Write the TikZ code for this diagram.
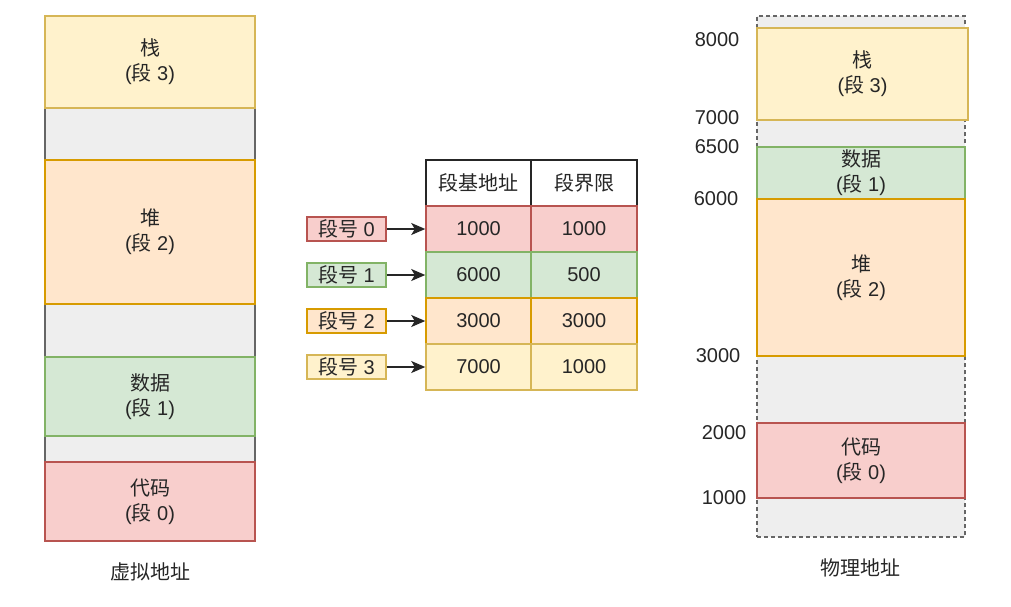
\documentclass[tikz,border=0pt]{standalone}
\usepackage{fontspec}
\setmainfont{Liberation Sans}
\newfontfamily\cjk{Noto Sans CJK SC}
\usetikzlibrary{arrows.meta}
\definecolor{yfill}{HTML}{FFF2CC}\definecolor{ydraw}{HTML}{D6B656}
\definecolor{ofill}{HTML}{FFE6CC}\definecolor{odraw}{HTML}{D79B00}
\definecolor{gfill}{HTML}{D5E8D4}\definecolor{gdraw}{HTML}{82B366}
\definecolor{rfill}{HTML}{F8CECC}\definecolor{rdraw}{HTML}{B85450}
\definecolor{efill}{HTML}{EEEEEE}\definecolor{edraw}{HTML}{666666}
\tikzset{
  base/.style={rectangle, inner sep=0pt, line width=1.5pt, align=center,
    font=\fontsize{20}{25}\selectfont, text=black!85},
  yseg/.style={base, fill=yfill, draw=ydraw},
  oseg/.style={base, fill=ofill, draw=odraw},
  gseg/.style={base, fill=gfill, draw=gdraw},
  rseg/.style={base, fill=rfill, draw=rdraw},
  eseg/.style={base, fill=efill, draw=edraw},
  dseg/.style={base, fill=efill, draw=edraw, dash pattern=on 4pt off 3pt},
  hcell/.style={base, fill=white, draw=black!85},
  lbl/.style={font=\fontsize{20}{25}\selectfont, text=black!85, inner sep=0pt},
  arr/.style={-{Stealth[length=14pt,width=12pt,inset=3.5pt]}, line width=1.5pt, draw=black!85},
}
\begin{document}
\begin{tikzpicture}[x=1pt,y=-1pt]
\useasboundingbox (0,0) rectangle (1011,606);
% virtual address space
\node[eseg, minimum width=210pt, minimum height=525pt] (vbg) at (150,278.5) {};
\node[yseg, minimum width=210pt, minimum height=92pt] (vstack) at (150,62) {{\cjk 栈}\\({\cjk 段} 3)};
\node[oseg, minimum width=210pt, minimum height=144pt] (vheap) at (150,232) {{\cjk 堆}\\({\cjk 段} 2)};
\node[gseg, minimum width=210pt, minimum height=79pt] (vdata) at (150,396.5) {{\cjk 数据}\\({\cjk 段} 1)};
\node[rseg, minimum width=210pt, minimum height=79pt] (vcode) at (150,501.5) {{\cjk 代码}\\({\cjk 段} 0)};
\node[lbl] (vlabel) at (150,572) {\cjk 虚拟地址};
% segment table
\node[hcell, minimum width=105pt, minimum height=46pt] (h1) at (478.5,183) {\cjk 段基地址};
\node[hcell, minimum width=106pt, minimum height=46pt] (h2) at (584,183) {\cjk 段界限};
\node[rseg, minimum width=105pt, minimum height=46pt] (b0) at (478.5,229) {1000};
\node[rseg, minimum width=106pt, minimum height=46pt] (l0) at (584,229) {1000};
\node[gseg, minimum width=105pt, minimum height=46pt] (b1) at (478.5,275) {6000};
\node[gseg, minimum width=106pt, minimum height=46pt] (l1) at (584,275) {500};
\node[oseg, minimum width=105pt, minimum height=46pt] (b2) at (478.5,321) {3000};
\node[oseg, minimum width=106pt, minimum height=46pt] (l2) at (584,321) {3000};
\node[yseg, minimum width=105pt, minimum height=46pt] (b3) at (478.5,367) {7000};
\node[yseg, minimum width=106pt, minimum height=46pt] (l3) at (584,367) {1000};
% segment numbers
\node[rseg, minimum width=79pt, minimum height=24pt] (s0) at (346.5,229) {{\cjk 段号} 0};
\node[gseg, minimum width=79pt, minimum height=24pt] (s1) at (346.5,275) {{\cjk 段号} 1};
\node[oseg, minimum width=79pt, minimum height=24pt] (s2) at (346.5,321) {{\cjk 段号} 2};
\node[yseg, minimum width=79pt, minimum height=24pt] (s3) at (346.5,367) {{\cjk 段号} 3};
\draw[arr] (s0) -- (b0);
\draw[arr] (s1) -- (b1);
\draw[arr] (s2) -- (b2);
\draw[arr] (s3) -- (b3);
% physical address space
\node[dseg, minimum width=208pt, minimum height=521pt] (pbg) at (861,276.5) {};
\node[yseg, minimum width=211pt, minimum height=92pt] (pstack) at (862.5,74) {{\cjk 栈}\\({\cjk 段} 3)};
\node[gseg, minimum width=208pt, minimum height=52pt] (pdata) at (861,173) {{\cjk 数据}\\({\cjk 段} 1)};
\node[oseg, minimum width=208pt, minimum height=157pt] (pheap) at (861,277.5) {{\cjk 堆}\\({\cjk 段} 2)};
\node[rseg, minimum width=208pt, minimum height=75pt] (pcode) at (861,460.5) {{\cjk 代码}\\({\cjk 段} 0)};
\node[lbl] (plabel) at (860,568) {\cjk 物理地址};
\node[lbl] (a8000) at (717,40) {8000};
\node[lbl] (a7000) at (717,118) {7000};
\node[lbl] (a6500) at (717,147) {6500};
\node[lbl] (a6000) at (716,199) {6000};
\node[lbl] (a3000) at (718,356) {3000};
\node[lbl] (a2000) at (724,433) {2000};
\node[lbl] (a1000) at (724,498) {1000};
\end{tikzpicture}
\end{document}
